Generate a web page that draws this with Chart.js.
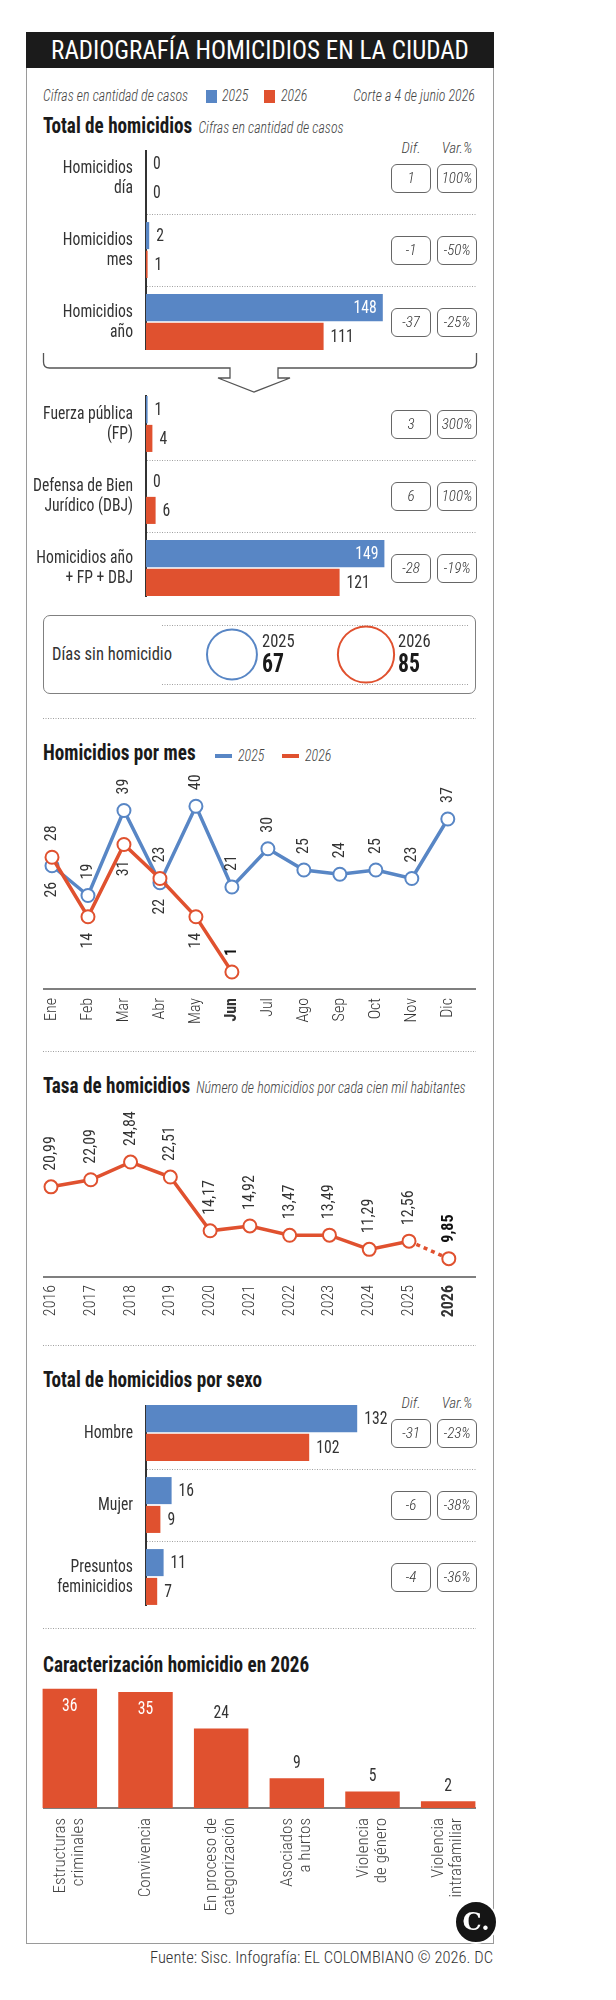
<!DOCTYPE html>
<html lang="es"><head><meta charset="utf-8"><title>Radiografía homicidios en la ciudad</title>
<script src="https://cdn.jsdelivr.net/npm/chart.js@4.4.1/dist/chart.umd.min.js"></script>
<style>
html,body{margin:0;padding:0;background:#fff}
#page{position:relative;width:616px;height:2000px;overflow:hidden;color:#333}
.a{position:absolute;white-space:nowrap}
.sq{transform:scaleX(.87);transform-origin:left center}
.sqr{transform:scaleX(.87);transform-origin:right center}
.it{font-style:italic;font-weight:300;color:#444}
.h2{font-weight:700;color:#1a1a1a;font-size:22px;height:28px;line-height:28px}
.sub{font-weight:300;font-style:italic;font-size:16px;color:#444;margin-left:2px}
.box{position:absolute;width:40px;height:29px;box-sizing:border-box;border:1.3px solid #666;border-radius:6px;text-align:center;line-height:27px;font-style:italic;font-weight:300;font-size:15px;color:#333}
canvas{position:absolute;display:block}
</style></head><body><div id="page"></div>
<script>
// ---------------- DATA ----------------
const seriesYears = ['2025', '2026'];
const totalLabels = [['Homicidios','día'],['Homicidios','mes'],['Homicidios','año']];
const total2025 = [0, 2, 148];
const total2026 = [0, 1, 111];
const totalDif = ['1', '-1', '-37'];
const totalVar = ['100%', '-50%', '-25%'];

const breakdownLabels = [['Fuerza pública','(FP)'],['Defensa de Bien','Jurídico (DBJ)'],['Homicidios año','+ FP + DBJ']];
const breakdown2025 = [1, 0, 149];
const breakdown2026 = [4, 6, 121];
const breakdownDif = ['3', '6', '-28'];
const breakdownVar = ['300%', '100%', '-19%'];

const daysYears = ['2025', '2026'];
const daysWithout = [67, 85];

const months = ['Ene','Feb','Mar','Abr','May','Jun','Jul','Ago','Sep','Oct','Nov','Dic'];
const monthly2025 = [26, 19, 39, 22, 40, 21, 30, 25, 24, 25, 23, 37];
const monthly2026 = [28, 14, 31, 23, 14, 1];
const monthlyPos2025 = ['below','above','above','below','above','above','above','above','above','above','above','above'];
const monthlyPos2026 = ['above','below','below','above','below','above'];

const rateYears = ['2016','2017','2018','2019','2020','2021','2022','2023','2024','2025','2026'];
const rateValues = [20.99, 22.09, 24.84, 22.51, 14.17, 14.92, 13.47, 13.49, 11.29, 12.56, 9.85];

const sexLabels = ['Hombre', 'Mujer', ['Presuntos','feminicidios']];
const sex2025 = [132, 16, 11];
const sex2026 = [102, 9, 7];
const sexDif = ['-31', '-6', '-4'];
const sexVar = ['-23%', '-38%', '-36%'];

const causeLabels = [['Estructuras','criminales'],['Convivencia'],['En proceso de','categorización'],['Asociados','a hurtos'],['Violencia','de género'],['Violencia','intrafamiliar']];
const causeValues = [36, 35, 24, 9, 5, 2];

// ---------------- STYLE ----------------
const BLUE = '#5886c5', RED = '#e0512f';
const SX = 0.87;
function pickFont(list){
  const c = document.createElement('canvas').getContext('2d');
  const s = 'HomicidiosWwmq 0123';
  c.font = '40px monospace'; const b1 = c.measureText(s).width;
  c.font = '40px serif'; const b2 = c.measureText(s).width;
  for (const f of list){
    c.font = '40px "'+f+'", monospace'; const w1 = c.measureText(s).width;
    c.font = '40px "'+f+'", serif'; const w2 = c.measureText(s).width;
    if (w1 !== b1 || w2 !== b2) return f;
  }
  return 'Roboto';
}
const FNAME = pickFont(['Roboto Condensed','Liberation Sans Narrow','DejaVu Sans Condensed']);
const FF = '"' + FNAME + '", Roboto, sans-serif';
const page = document.getElementById('page');
page.style.fontFamily = FF;

Chart.defaults.font.family = FF;
Chart.defaults.color = '#333';
Chart.defaults.animation = false;
Chart.defaults.plugins.legend.display = false;
Chart.defaults.plugins.tooltip.enabled = false;

function el(tag, cls, style, html){
  const e = document.createElement(tag);
  if (cls) e.className = cls;
  if (style) e.setAttribute('style', style);
  if (html != null) e.innerHTML = html;
  page.appendChild(e); return e;
}
function txt(left, cy, size, html, extra, h){
  h = h || 24;
  return el('div', 'a sq', 'left:'+left+'px;top:'+(cy-h/2)+'px;height:'+h+'px;line-height:'+h+'px;font-size:'+size+'px;'+(extra||''), html);
}
function rtxt(right, cy, size, html, extra, cls){
  return el('div', 'a ' + (cls == null ? 'sqr' : cls), 'right:'+(616-right)+'px;top:'+(cy-12)+'px;height:24px;line-height:24px;text-align:right;font-size:'+size+'px;'+(extra||''), html);
}
function canvas(left, top, w, h){
  const c = document.createElement('canvas');
  c.width = w; c.height = h;
  c.style.left = left+'px'; c.style.top = top+'px';
  c.style.width = w+'px'; c.style.height = h+'px';
  page.appendChild(c); return c;
}

// ---------------- FRAME & STATIC ----------------
el('div','a','left:26px;top:32px;width:468px;height:1912px;box-sizing:border-box;border:1.5px solid #9a9a9a');
el('div','a','left:26px;top:32px;width:468px;height:36px;background:#1b1b1b;color:#fff;font-size:25px;line-height:37px;text-align:center','RADIOGRAFÍA HOMICIDIOS EN LA CIUDAD');

const svgNS = 'http://www.w3.org/2000/svg';
const svg = document.createElementNS(svgNS,'svg');
svg.setAttribute('width','616'); svg.setAttribute('height','2000');
svg.setAttribute('style','position:absolute;left:0;top:0');
function line(x1,y1,x2,y2,stroke,w,dash){
  const l = document.createElementNS(svgNS,'line');
  l.setAttribute('x1',x1); l.setAttribute('y1',y1); l.setAttribute('x2',x2); l.setAttribute('y2',y2);
  l.setAttribute('stroke',stroke); l.setAttribute('stroke-width',w);
  if (dash) l.setAttribute('stroke-dasharray',dash);
  svg.appendChild(l);
}
[214.5,286.5,460.5,532.5,1469.5,1541.5].forEach(y=>line(147,y,476,y,'#a0a0a0',1,'1 1.5'));
[625.5,684.5].forEach(y=>line(162,y,468,y,'#a0a0a0',1,'1 1.5'));
[718.5,1051.5,1345.5,1628.5].forEach(y=>line(43,y,476,y,'#a0a0a0',1,'1 1.5'));
line(146,150,146,350,'#333',2); line(146,395,146,597,'#333',2); line(146,1405,146,1606,'#333',2);
line(43,989,476,989,'#555',1.5); line(43,1277,476,1277,'#555',1.5); line(43,1808,476,1808,'#555',1.5);
const brace = document.createElementNS(svgNS,'path');
brace.setAttribute('d','M43.5,353 L43.5,362 Q43.5,368 49.5,368 L230,368 L230,378 L218,378 L254,392 L290,378 L278,378 L278,368 L470.5,368 Q476.5,368 476.5,362 L476.5,353');
brace.setAttribute('fill','none'); brace.setAttribute('stroke','#555'); brace.setAttribute('stroke-width','1.3');
svg.appendChild(brace);
page.appendChild(svg);

// legend row
const itStyle = 'font-style:italic;font-weight:300;color:#444';
txt(43, 96, 16, 'Cifras en cantidad de casos', itStyle);
el('div','a','left:206px;top:90px;width:11px;height:13px;background:'+BLUE);
txt(222, 96, 16, seriesYears[0], itStyle);
el('div','a','left:264px;top:90px;width:11px;height:13px;background:'+RED);
txt(281, 96, 16, seriesYears[1], itStyle);
rtxt(475, 96, 16, 'Corte a 4 de junio 2026', itStyle);

el('div','a h2 sq','left:43px;top:112px','Total de homicidios <span class="sub">Cifras en cantidad de casos</span>');
function difHeader(cy){
  el('div','a it','left:391px;width:40px;text-align:center;top:'+(cy-12)+'px;line-height:24px;font-size:15px','Dif.');
  el('div','a it','left:437px;width:40px;text-align:center;top:'+(cy-12)+'px;line-height:24px;font-size:15px','Var.%');
}
difHeader(148);

// ---------------- PLUGINS ----------------
function sqText(ctx, s, x, y){
  ctx.save(); ctx.translate(x, y); ctx.scale(SX, 1); ctx.fillText(s, 0, 0); ctx.restore();
}
const valLabels = {
  id: 'valLabels',
  afterDatasetsDraw(chart, args, o){
    const ctx = chart.ctx;
    ctx.save();
    ctx.font = '400 ' + o.size + 'px ' + FF;
    chart.data.datasets.forEach((ds, di) => {
      const meta = chart.getDatasetMeta(di);
      meta.data.forEach((b, i) => {
        const v = ds.data[i];
        const inside = o.inside(v);
        if (chart.options.indexAxis === 'y'){
          ctx.textBaseline = 'middle';
          if (inside){ ctx.fillStyle = '#fff'; ctx.textAlign = 'right'; sqText(ctx, String(v), b.x - 6, b.y + 1); }
          else { ctx.fillStyle = '#333'; ctx.textAlign = 'left'; sqText(ctx, String(v), b.x + 7, b.y + 1); }
        } else {
          ctx.textAlign = 'center';
          if (inside){ ctx.fillStyle = '#fff'; ctx.textBaseline = 'top'; sqText(ctx, String(v), b.x, b.y + 9); }
          else { ctx.fillStyle = '#333'; ctx.textBaseline = 'bottom'; sqText(ctx, String(v), b.x, b.y - 6); }
        }
      });
    });
    ctx.restore();
  }
};
const rowLabels = {
  id: 'rowLabels',
  afterDraw(chart, args, o){
    const ctx = chart.ctx, ys = chart.scales.y, x = chart.chartArea.left - o.pad;
    ctx.save();
    ctx.font = '400 ' + o.size + 'px ' + FF; ctx.fillStyle = '#333';
    ctx.textAlign = 'right'; ctx.textBaseline = 'middle';
    chart.data.labels.forEach((lab, i) => {
      const lines = Array.isArray(lab) ? lab : [lab];
      const cy = ys.getPixelForValue(i);
      lines.forEach((ln, j) => sqText(ctx, ln, x, cy + (j - (lines.length - 1)/2) * o.lineHeight));
    });
    ctx.restore();
  }
};
const ptLabels = {
  id: 'ptLabels',
  afterDatasetsDraw(chart, args, o){
    const ctx = chart.ctx;
    chart.data.datasets.forEach((ds, di) => {
      const meta = chart.getDatasetMeta(di);
      const pos = (o.positions && o.positions[di]) || [];
      meta.data.forEach((p, i) => {
        const v = ds.data[i]; if (v == null) return;
        const above = (pos[i] || 'above') === 'above';
        const bold = o.bold && o.bold(di, i);
        ctx.save();
        ctx.translate(p.x, p.y + (above ? -o.offset : o.offset));
        ctx.rotate(-Math.PI/2);
        ctx.font = (bold ? '700 ' : '400 ') + o.size + 'px ' + FF;
        ctx.fillStyle = bold ? '#111' : '#333';
        ctx.textAlign = above ? 'left' : 'right';
        ctx.textBaseline = 'middle';
        ctx.fillText(o.format ? o.format(v) : String(v), 0, 0);
        ctx.restore();
      });
    });
  }
};
const catLabels = {
  id: 'catLabels',
  afterDraw(chart, args, o){
    const ctx = chart.ctx, xs = chart.scales.x, bottom = chart.chartArea.bottom;
    chart.data.labels.forEach((lab, i) => {
      const lines = Array.isArray(lab) ? lab : [lab];
      const px = xs.getPixelForValue(i);
      lines.forEach((ln, j) => {
        ctx.save();
        ctx.translate(px + (j - (lines.length - 1)/2) * o.lineHeight, bottom + o.pad);
        ctx.rotate(-Math.PI/2);
        ctx.textAlign = 'right'; ctx.textBaseline = 'middle';
        ctx.font = '300 ' + o.size + 'px ' + FF; ctx.fillStyle = '#444';
        ctx.fillText(ln, 0, 0);
        ctx.restore();
      });
    });
  }
};

// ---------------- HORIZONTAL BAR CHARTS ----------------
function hbar(top, labels, a, b, dif, vr){
  const cv = canvas(0, top, 446, 216);
  const ch = new Chart(cv, {
    type: 'bar',
    data: { labels: labels, datasets: [
      { label: seriesYears[0], data: a, backgroundColor: BLUE },
      { label: seriesYears[1], data: b, backgroundColor: RED } ] },
    options: {
      indexAxis: 'y', responsive: false, animation: false,
      layout: { padding: { left: 146, top: 0, right: 0, bottom: 0 }, autoPadding: false },
      datasets: { bar: { categoryPercentage: 0.8, barPercentage: 0.94 } },
      scales: {
        x: { display: false, min: 0, max: 187.5 },
        y: { display: false }
      },
      plugins: { valLabels: { inside: v => v > 140, size: 18 },
                 rowLabels: { pad: 13, size: 18, lineHeight: 20 } }
    },
    plugins: [valLabels, rowLabels]
  });
  labels.forEach((l, i) => {
    const cy = top + ch.scales.y.getPixelForValue(i);
    el('div','box','left:391px;top:'+(cy-14.5)+'px', dif[i]);
    el('div','box','left:437px;top:'+(cy-14.5)+'px', vr[i]);
  });
  return ch;
}
hbar(142, totalLabels, total2025, total2026, totalDif, totalVar);
hbar(388, breakdownLabels, breakdown2025, breakdown2026, breakdownDif, breakdownVar);

// ---------------- DAYS WITHOUT HOMICIDE ----------------
el('div','a','left:43px;top:615px;width:433px;height:79px;box-sizing:border-box;border:1.5px solid #808080;border-radius:7px');
txt(52, 654, 19, 'Días sin homicidio', 'color:#333');
new Chart(canvas(162, 615, 306, 79), {
  type: 'bubble',
  data: { datasets: [{ data: daysWithout.map((v, i) => ({ x: i, y: 0, r: Math.sqrt(v) * 3.05 })),
    backgroundColor: 'rgba(255,255,255,0)', borderColor: [BLUE, RED], borderWidth: 2, clip: false }] },
  options: { responsive: false, layout: { padding: 0, autoPadding: false },
    scales: { x: { display: false, min: -0.522, max: 1.761 }, y: { display: false, min: -1, max: 1 } } }
});
[262, 398].forEach((x, i) => {
  txt(x, 641, 19, daysYears[i], 'color:#333');
  txt(x, 664, 25, String(daysWithout[i]), 'font-weight:700;color:#1a1a1a');
});

// ---------------- MONTHLY LINE ----------------
el('div','a h2 sq','left:43px;top:739px','Homicidios por mes');
el('div','a','left:215px;top:754px;width:17px;height:4px;background:'+BLUE);
txt(238, 756, 16, seriesYears[0], itStyle);
el('div','a','left:282px;top:754px;width:17px;height:4px;background:'+RED);
txt(305, 756, 16, seriesYears[1], itStyle);

const curMonth = monthly2026.length - 1;
new Chart(canvas(43, 770, 433, 259), {
  type: 'line',
  data: { labels: months, datasets: [
    { label: seriesYears[0], data: monthly2025, borderColor: BLUE, order: 1 },
    { label: seriesYears[1], data: monthly2026, borderColor: RED, order: 0 } ] },
  options: {
    responsive: false,
    layout: { padding: { top: 6.5, left: 6, right: 6, bottom: 0 }, autoPadding: false },
    datasets: { line: { borderWidth: 3.5, tension: 0, pointRadius: 6.5, pointBorderWidth: 2, pointBackgroundColor: '#fff', clip: false } },
    scales: {
      y: { display: false, min: -3, max: 47 },
      x: { grid: { display: false, drawTicks: false }, border: { display: false },
           ticks: { minRotation: 90, maxRotation: 90, autoSkip: false, padding: 9, color: '#333',
                    font: c => ({ size: 16, weight: c.index === curMonth ? '700' : '300' }) },
           afterFit: s => { s.height = 40; } }
    },
    plugins: { ptLabels: { positions: [monthlyPos2025, monthlyPos2026], offset: 16, size: 16,
                           bold: (di, i) => di === 1 && i === curMonth } }
  },
  plugins: [ptLabels]
});

// ---------------- RATE LINE ----------------
el('div','a h2 sq','left:43px;top:1072px','Tasa de homicidios <span class="sub">Número de homicidios por cada cien mil habitantes</span>');
const lastRate = rateValues.length - 1;
new Chart(canvas(43, 1095, 433, 232), {
  type: 'line',
  data: { labels: rateYears, datasets: [
    { label: 'Tasa', data: rateValues, borderColor: RED,
      segment: { borderDash: c => c.p1DataIndex === lastRate ? [4, 4] : undefined } } ] },
  options: {
    responsive: false,
    layout: { padding: { top: 8, left: 6, right: 7, bottom: 0 }, autoPadding: false },
    datasets: { line: { borderWidth: 3.5, tension: 0, pointRadius: 6.5, pointBorderWidth: 2, pointBackgroundColor: '#fff', clip: false } },
    scales: {
      y: { display: false, min: 7, max: 34 },
      x: { grid: { display: false, drawTicks: false }, border: { display: false },
           ticks: { minRotation: 90, maxRotation: 90, autoSkip: false, padding: 8, color: '#333',
                    font: c => ({ size: 16, weight: c.index === lastRate ? '700' : '300' }) },
           afterFit: s => { s.height = 50; } }
    },
    plugins: { ptLabels: { offset: 16, size: 16, format: v => v.toFixed(2).replace('.', ','),
                           bold: (di, i) => i === lastRate } }
  },
  plugins: [ptLabels]
});

// ---------------- SEX ----------------
el('div','a h2 sq','left:43px;top:1366px','Total de homicidios por sexo');
difHeader(1403);
hbar(1397, sexLabels, sex2025, sex2026, sexDif, sexVar);

// ---------------- CAUSES ----------------
el('div','a h2 sq','left:43px;top:1651px','Caracterización homicidio en 2026');
new Chart(canvas(32, 1682, 454, 256), {
  type: 'bar',
  data: { labels: causeLabels, datasets: [{ label: seriesYears[1], data: causeValues, backgroundColor: RED }] },
  options: {
    responsive: false, layout: { padding: 0, autoPadding: false },
    datasets: { bar: { categoryPercentage: 1, barPercentage: 0.72 } },
    scales: {
      y: { display: false, min: 0, max: 38 },
      x: { grid: { display: false, drawTicks: false }, border: { display: false }, ticks: { display: false },
           afterFit: s => { s.height = 130; } }
    },
    plugins: { valLabels: { inside: v => v >= 30, size: 18 }, catLabels: { lineHeight: 18, pad: 10, size: 17 } }
  },
  plugins: [valLabels, catLabels]
});

// logo & source
el('div','a','left:454px;top:1900px;width:40px;height:40px;border-radius:50%;background:#151515;border:2px solid #fff;color:#fff;font-family:\'DejaVu Serif\',\'Liberation Serif\',serif;font-weight:700;font-size:24px;line-height:40px;text-align:center','C.');
rtxt(493, 1958, 16.5, 'Fuente: Sisc. Infografía: EL COLOMBIANO © 2026. DC', 'font-weight:300;color:#333', '');
</script></body></html>
